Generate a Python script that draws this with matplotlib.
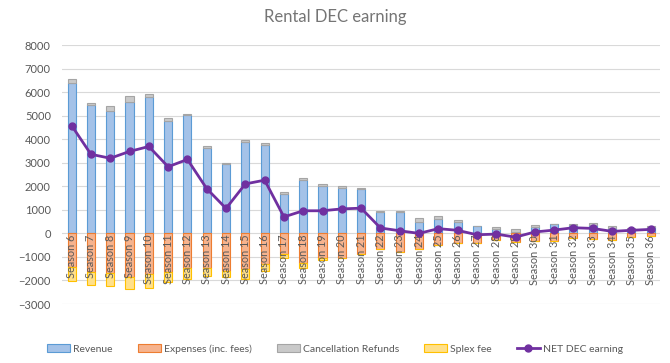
import numpy as np
import matplotlib
matplotlib.use("Agg")
import matplotlib.pyplot as plt

plt.rcParams['font.family'] = ['Lato', 'DejaVu Sans']

#----- data -----
seasons = ["Season %d" % s for s in range(6, 37)]
revenue = [6370, 5450, 5210, 5580, 5790, 4790, 5010, 3625, 2930, 3895, 3770, 1670, 2280, 2010, 1940, 1870,
           905, 905, 480, 620, 470, 310, 200, 70, 280, 400, 340, 370, 240, 170, 255]
refunds = [200, 70, 190, 270, 140, 125, 75, 100, 60, 85, 80, 70, 85, 70, 85, 70,
           60, 60, 185, 130, 90, 0, 80, 115, 90, 0, 70, 80, 85, 40, 70]
expenses = [-1410, -1660, -1700, -1870, -1730, -1630, -1450, -1450, -1590, -1520, -1280, -860, -1240, -1040, -1030, -860,
            -650, -800, -680, -500, -420, -400, -300, -350, -310, -310, -185, -230, -270, -140, -110]
splex = [-600, -520, -520, -510, -570, -450, -490, -380, -280, -400, -330, -170, -210, -70, 0, 0,
         0, 0, 0, 0, 0, 0, 0, 0, 0, 0, 0, 0, 0, 0, 0]
net = [4580, 3360, 3190, 3480, 3690, 2830, 3140, 1900, 1060, 2100, 2260, 700, 960, 960, 1040, 1070,
       230, 110, 0, 200, 130, -60, -30, -160, 60, 140, 240, 210, 85, 130, 170]

x = np.arange(len(seasons))
w = 0.42
txt = '#595959'

fig = plt.figure(figsize=(6.7, 3.63), dpi=100)
ax = fig.add_axes([0.0925, 0.1625, 0.893, 0.7135])

b_rev = ax.bar(x, revenue, w, color='#a4c2e8', edgecolor='#5b9bd5', linewidth=0.8, label='Revenue', zorder=2)
b_exp = ax.bar(x, expenses, w, color='#f6b38e', edgecolor='#ed7d31', linewidth=0.8, label='Expenses (inc. fees)', zorder=2)
b_ref = ax.bar(x, refunds, w, bottom=revenue, color='#c9c9c9', edgecolor='#a5a5a5', linewidth=0.8,
               label='Cancellation Refunds', zorder=2)
b_spx = ax.bar(x, splex, w, bottom=expenses, color='#ffe08a', edgecolor='#ffc000', linewidth=0.8,
               label='Splex fee', zorder=2)
l_net, = ax.plot(x, net, color='#7030a0', linewidth=2, marker='o', markersize=5, label='NET DEC earning', zorder=4)

ax.set_ylim(-3000, 8000)
ax.set_xlim(-0.5, len(seasons) - 0.5)
ax.set_yticks(np.arange(-3000, 8001, 1000))
ax.tick_params(axis='y', length=0, labelsize=8, colors=txt, pad=8)
ax.set_xticks([])
ax.grid(axis='y', color='#d9d9d9', linewidth=0.8, zorder=0)
ax.set_axisbelow(True)
for s in ax.spines.values():
    s.set_visible(False)

# category labels sit next to the zero line, rotated
for i, lab in enumerate(seasons):
    ax.text(i, -60, lab, rotation=90, ha='center', va='top', fontsize=7.8, color=txt, zorder=3)

fig.suptitle('Rental DEC earning', x=0.5, y=0.975, fontsize=12, color='#757575')

handles = [b_rev, b_exp, b_ref, b_spx, l_net]
fig.legend(handles, [h.get_label() for h in handles], loc='lower center', ncol=5, frameon=False,
           fontsize=7.5, labelcolor=txt, bbox_to_anchor=(0.5, 0.0), handlelength=2.2, handleheight=0.8,
           columnspacing=2.4, handletextpad=0.3)

fig.savefig('out.png', dpi=100)
